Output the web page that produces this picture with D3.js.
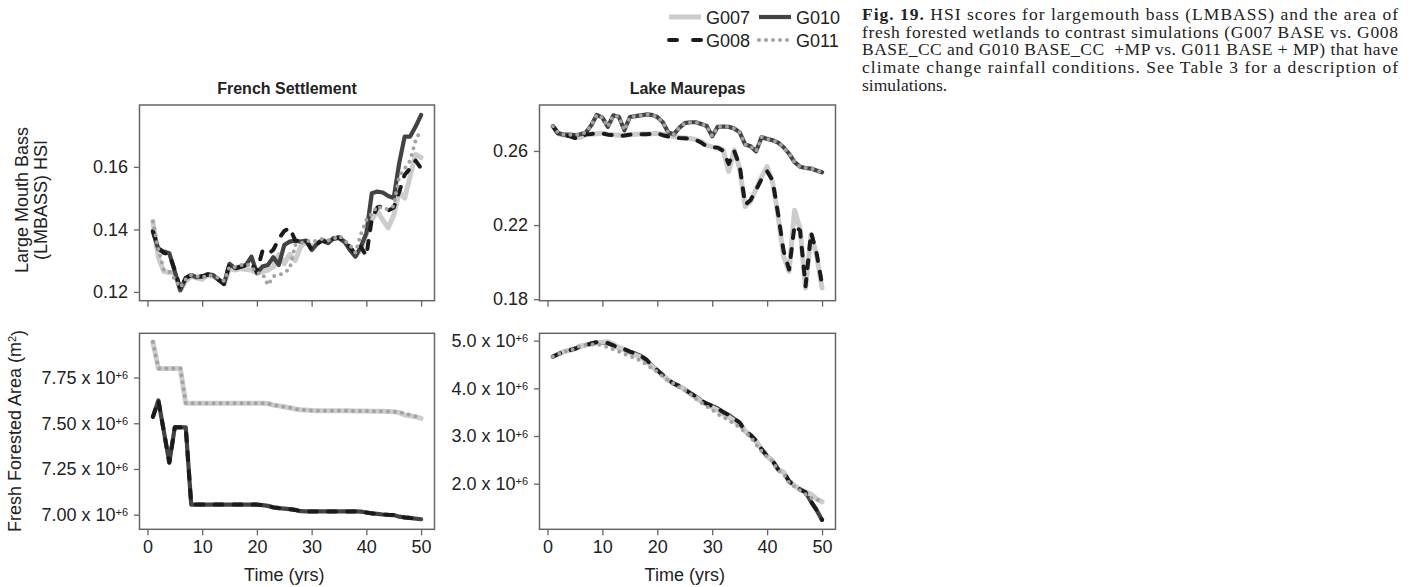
<!DOCTYPE html>
<html><head><meta charset="utf-8">
<script src="https://cdn.jsdelivr.net/npm/d3@7"></script>
<style>
body{margin:0;background:#fff}
svg{display:block}
</style>
</head><body>
<svg id="c" width="1411" height="587"></svg>
<script>
// ---------------- DATA ----------------
const years = [1,2,3,4,5,6,7,8,9,10,11,12,13,14,15,16,17,18,19,20,21,22,23,24,25,26,27,28,29,30,31,32,33,34,35,36,37,38,39,40,41,42,43,44,45,46,47,48,49,50];
const seriesNames = ["G007","G010","G008","G011"];
const xTicks = [0,10,20,30,40,50];
const fsHSITicks = [0.12,0.14,0.16];
const lmHSITicks = [0.18,0.22,0.26];
const fsAreaTicks = [7.00,7.25,7.50,7.75];
const lmAreaTicks = [2.0,3.0,4.0,5.0];
const panelTitles = ["French Settlement","Lake Maurepas"];

// French Settlement - Large Mouth Bass HSI
const fsHSI_G007 = [0.1425,0.1310,0.1265,0.1262,0.1262,0.1205,0.1235,0.1250,0.1245,0.1240,
0.1255,0.1250,0.1240,0.1225,0.1275,0.1270,0.1275,0.1272,0.1270,0.1260,
0.1265,0.1270,0.1280,0.1320,0.1290,0.1320,0.1300,0.1345,0.1360,0.1345,
0.1355,0.1365,0.1360,0.1370,0.1375,0.1360,0.1340,0.1315,0.1335,0.1385,
0.1430,0.1460,0.1430,0.1405,0.1445,0.1520,0.1500,0.1570,0.1640,0.1630];
const fsHSI_G010 = [0.1393,0.1337,0.1329,0.1324,0.1265,0.1206,0.1244,0.1254,0.1247,0.1249,
0.1257,0.1254,0.1238,0.1226,0.1290,0.1276,0.1281,0.1286,0.1313,0.1260,
0.1281,0.1286,0.1311,0.1286,0.1350,0.1361,0.1364,0.1361,0.1364,0.1334,
0.1354,0.1366,0.1356,0.1372,0.1372,0.1361,0.1334,0.1313,0.1345,0.1388,
0.1516,0.1521,0.1518,0.1507,0.1500,0.1612,0.1697,0.1697,0.1729,0.1766];
const fsHSI_G008 = [0.1395,0.1340,0.1325,0.1320,0.1270,0.1210,0.1245,0.1255,0.1250,0.1250,
0.1255,0.1255,0.1240,0.1225,0.1290,0.1275,0.1280,0.1285,0.1290,0.1265,
0.1330,0.1320,0.1335,0.1370,0.1395,0.1405,0.1365,0.1360,0.1365,0.1335,
0.1355,0.1365,0.1355,0.1370,0.1375,0.1360,0.1345,0.1320,0.1345,0.1315,
0.1435,0.1470,0.1475,0.1460,0.1470,0.1520,0.1575,0.1595,0.1620,0.1595];
const fsHSI_G011 = [0.1425,0.1335,0.1270,0.1265,0.1240,0.1215,0.1240,0.1255,0.1250,0.1245,
0.1255,0.1250,0.1245,0.1235,0.1280,0.1280,0.1285,0.1290,0.1280,0.1260,
0.1260,0.1222,0.1250,0.1255,0.1260,0.1275,0.1350,0.1355,0.1365,0.1360,
0.1365,0.1370,0.1365,0.1370,0.1380,0.1365,0.1350,0.1325,0.1385,0.1430,
0.1450,0.1475,0.1465,0.1465,0.1475,0.1570,0.1595,0.1620,0.1685,0.1720];

// Lake Maurepas - Large Mouth Bass HSI
const lmHSI_G007 = [0.2733,0.2692,0.2685,0.2683,0.2675,0.2672,0.2688,0.2690,0.2693,0.2695,
0.2690,0.2688,0.2685,0.2685,0.2688,0.2690,0.2692,0.2692,0.2693,0.2695,
0.2690,0.2682,0.2678,0.2673,0.2670,0.2667,0.2662,0.2650,0.2630,0.2622,
0.2618,0.2605,0.2490,0.2605,0.2505,0.2300,0.2330,0.2395,0.2460,0.2515,
0.2430,0.2250,0.2030,0.1950,0.2280,0.2180,0.1860,0.2150,0.2040,0.1860];
const lmHSI_G010 = [0.2733,0.2695,0.2688,0.2688,0.2685,0.2690,0.2700,0.2740,0.2795,0.2780,
0.2730,0.2792,0.2785,0.2712,0.2783,0.2788,0.2792,0.2797,0.2795,0.2783,
0.2755,0.2700,0.2690,0.2725,0.2750,0.2755,0.2755,0.2745,0.2735,0.2680,
0.2730,0.2732,0.2730,0.2722,0.2700,0.2635,0.2625,0.2598,0.2675,0.2665,
0.2658,0.2645,0.2620,0.2585,0.2540,0.2515,0.2508,0.2505,0.2495,0.2485];
const lmHSI_G008 = [0.2733,0.2690,0.2683,0.2680,0.2670,0.2668,0.2690,0.2692,0.2695,0.2695,
0.2688,0.2685,0.2680,0.2683,0.2688,0.2690,0.2690,0.2690,0.2692,0.2695,
0.2685,0.2678,0.2675,0.2670,0.2668,0.2665,0.2660,0.2645,0.2625,0.2620,
0.2618,0.2600,0.2530,0.2600,0.2520,0.2310,0.2335,0.2390,0.2450,0.2490,
0.2440,0.2260,0.2060,0.1960,0.2200,0.2170,0.1870,0.2160,0.2050,0.1880];
const lmHSI_G011 = [0.2733,0.2695,0.2688,0.2688,0.2685,0.2690,0.2700,0.2740,0.2795,0.2780,
0.2730,0.2792,0.2785,0.2712,0.2783,0.2788,0.2792,0.2797,0.2795,0.2783,
0.2755,0.2700,0.2690,0.2725,0.2750,0.2755,0.2755,0.2745,0.2735,0.2680,
0.2730,0.2732,0.2730,0.2722,0.2700,0.2635,0.2625,0.2598,0.2675,0.2665,
0.2658,0.2645,0.2620,0.2585,0.2540,0.2515,0.2508,0.2505,0.2495,0.2485];

// French Settlement - Fresh forested area (x 10^6 m2)
const fsArea_G007 = [7.945,7.800,7.800,7.800,7.800,7.800,7.610,7.610,7.610,7.610,
7.610,7.610,7.610,7.610,7.610,7.610,7.610,7.610,7.610,7.610,
7.610,7.608,7.600,7.595,7.590,7.585,7.578,7.574,7.572,7.570,
7.568,7.568,7.568,7.568,7.568,7.568,7.568,7.567,7.567,7.567,
7.566,7.566,7.565,7.564,7.563,7.558,7.545,7.541,7.536,7.527];
const fsArea_G010 = [7.535,7.625,7.455,7.285,7.478,7.478,7.478,7.055,7.055,7.055,
7.055,7.055,7.055,7.055,7.055,7.055,7.055,7.055,7.055,7.055,
7.052,7.048,7.040,7.036,7.033,7.030,7.026,7.019,7.018,7.018,
7.018,7.018,7.018,7.018,7.018,7.018,7.018,7.018,7.017,7.012,
7.007,7.004,7.001,6.999,6.998,6.989,6.985,6.982,6.978,6.975];
const fsArea_G008 = [7.535,7.625,7.455,7.285,7.478,7.478,7.478,7.055,7.055,7.055,
7.055,7.055,7.055,7.055,7.055,7.055,7.055,7.055,7.055,7.055,
7.052,7.048,7.040,7.036,7.033,7.030,7.026,7.019,7.018,7.018,
7.018,7.018,7.018,7.018,7.018,7.018,7.018,7.018,7.017,7.012,
7.007,7.004,7.001,6.999,6.998,6.989,6.985,6.982,6.978,6.975];
const fsArea_G011 = [7.945,7.800,7.800,7.800,7.800,7.800,7.610,7.610,7.610,7.610,
7.610,7.610,7.610,7.610,7.610,7.610,7.610,7.610,7.610,7.610,
7.610,7.608,7.600,7.595,7.590,7.585,7.578,7.574,7.572,7.570,
7.568,7.568,7.568,7.568,7.568,7.568,7.568,7.567,7.567,7.567,
7.566,7.566,7.565,7.564,7.563,7.560,7.555,7.545,7.536,7.530];

// Lake Maurepas - Fresh forested area (x 10^6 m2)
const lmArea_G007 = [4.665,4.720,4.770,4.800,4.830,4.890,4.910,4.930,4.960,4.970,
4.980,4.920,4.860,4.800,4.750,4.700,4.650,4.570,4.460,4.370,
4.270,4.170,4.100,4.040,3.970,3.890,3.810,3.720,3.660,3.600,
3.540,3.460,3.400,3.320,3.240,3.100,3.000,2.880,2.720,2.580,
2.470,2.300,2.240,2.050,1.960,1.880,1.830,1.780,1.680,1.620];
const lmArea_G010 = [4.665,4.720,4.770,4.800,4.830,4.880,4.910,4.940,4.970,4.960,
4.950,4.900,4.850,4.820,4.770,4.730,4.680,4.600,4.480,4.380,
4.280,4.180,4.100,4.050,3.980,3.900,3.830,3.740,3.680,3.630,
3.580,3.500,3.440,3.360,3.280,3.100,3.020,2.900,2.720,2.580,
2.480,2.300,2.240,2.050,1.960,1.880,1.820,1.620,1.450,1.240];
const lmArea_G008 = [4.665,4.720,4.770,4.800,4.830,4.880,4.910,4.940,4.970,4.960,
4.950,4.900,4.850,4.820,4.770,4.730,4.680,4.600,4.480,4.380,
4.280,4.180,4.100,4.050,3.980,3.900,3.830,3.740,3.680,3.630,
3.580,3.500,3.440,3.360,3.280,3.100,3.020,2.900,2.720,2.580,
2.480,2.300,2.240,2.050,1.960,1.880,1.820,1.620,1.450,1.240];
const lmArea_G011 = [4.665,4.720,4.770,4.800,4.830,4.900,4.910,4.920,4.930,4.900,
4.860,4.820,4.770,4.720,4.680,4.630,4.580,4.500,4.420,4.350,
4.250,4.160,4.100,4.020,3.960,3.880,3.780,3.700,3.620,3.550,
3.460,3.400,3.330,3.260,3.180,3.080,2.980,2.820,2.680,2.560,
2.470,2.280,2.200,2.020,1.940,1.860,1.780,1.700,1.660,1.650];

const captionLines = [
  ["Fig. 19.", " HSI scores for largemouth bass (LMBASS) and the area of"],
  ["", "fresh forested wetlands to contrast simulations (G007 BASE vs. G008"],
  ["", "BASE_CC and G010 BASE_CC  +MP vs. G011 BASE + MP) that have"],
  ["", "climate change rainfall conditions. See Table 3 for a description of"],
  ["", "simulations."]
];

// ---------------- STYLE / LAYOUT ----------------
const FONT = '"Liberation Sans", Arial, Helvetica, sans-serif';
const AX_FS = 18;
const styles = {
  G007: {stroke:"#cccccc", width:5,   dash:null,    cap:"round"},
  G010: {stroke:"#434343", width:4.2, dash:null,    cap:"round"},
  G008: {stroke:"#1b1b1b", width:4,   dash:"8,11",  cap:"round"},
  G011: {stroke:"#a2a2a2", width:4,   dash:"0,7",   cap:"round"}
};
const xDomain = [-1.45, 52.45];

const svg = d3.select("#c");

const panels = [
  {title:panelTitles[0], left:139.5, right:434.5, top:105, bottom:300.7,
   yDomain:[0.1172,0.1798], yTicks:fsHSITicks, fmt:"hsi", xLabels:false,
   order:["G007","G010","G008","G011"],
   data:{G007:fsHSI_G007,G010:fsHSI_G010,G008:fsHSI_G008,G011:fsHSI_G011}},
  {title:panelTitles[1], left:539.5, right:835.5, top:105, bottom:300.7,
   yDomain:[0.1792,0.2848], yTicks:lmHSITicks, fmt:"hsi", xLabels:false,
   order:["G007","G010","G008","G011"],
   data:{G007:lmHSI_G007,G010:lmHSI_G010,G008:lmHSI_G008,G011:lmHSI_G011}},
  {title:null, left:139.5, right:434.5, top:333.3, bottom:529.3,
   yDomain:[6.920,7.992], yTicks:fsAreaTicks, fmt:"sci2", xLabels:true,
   order:["G007","G010","G008","G011"],
   data:{G007:fsArea_G007,G010:fsArea_G010,G008:fsArea_G008,G011:fsArea_G011}},
  {title:null, left:539.5, right:835.5, top:333.3, bottom:529.3,
   yDomain:[1.043,5.155], yTicks:lmAreaTicks, fmt:"sci1", xLabels:true,
   order:["G010","G007","G008","G011"],
   data:{G007:lmArea_G007,G010:lmArea_G010,G008:lmArea_G008,G011:lmArea_G011}}
];

function drawPanel(p){
  const x = d3.scaleLinear().domain(xDomain).range([p.left,p.right]);
  const y = d3.scaleLinear().domain(p.yDomain).range([p.bottom,p.top]);
  const g = svg.append("g");

  // x axis
  const xa = g.append("g").attr("transform",`translate(0,${p.bottom})`)
    .call(d3.axisBottom(x).tickValues(xTicks).tickSize(6).tickPadding(5)
      .tickFormat(p.xLabels ? d3.format("d") : ""));
  xa.select(".domain").remove();
  xa.selectAll(".tick line").attr("stroke","#666").attr("stroke-width",1.3);
  xa.selectAll(".tick text").attr("font-family",FONT).attr("font-size",AX_FS).attr("fill","#222");

  // y axis
  const ya = g.append("g").attr("transform",`translate(${p.left},0)`)
    .call(d3.axisLeft(y).tickValues(p.yTicks).tickSize(5.5).tickPadding(6)
      .tickFormat(d => p.fmt==="hsi" ? d3.format(".2f")(d) : (p.fmt==="sci2" ? d3.format(".2f")(d) : d3.format(".1f")(d)) + " x 10"));
  ya.select(".domain").remove();
  ya.selectAll(".tick line").attr("stroke","#666").attr("stroke-width",1.3);
  ya.selectAll(".tick text").attr("font-family",FONT).attr("font-size",AX_FS).attr("fill","#222");
  if(p.fmt!=="hsi"){
    ya.selectAll(".tick text").append("tspan").attr("dy","-0.42em").attr("font-size",11).text("+6");
  }

  // frame
  g.append("rect").attr("x",p.left).attr("y",p.top)
    .attr("width",p.right-p.left).attr("height",p.bottom-p.top)
    .attr("fill","none").attr("stroke","#666").attr("stroke-width",1.5);

  // lines
  p.order.forEach(name=>{
    const st = styles[name];
    const vals = p.data[name];
    const line = d3.line().x((d,i)=>x(years[i])).y(d=>y(d));
    g.append("path").datum(vals).attr("d",line)
      .attr("fill","none").attr("stroke",st.stroke).attr("stroke-width",st.width)
      .attr("stroke-linejoin","round").attr("stroke-linecap",st.cap)
      .attr("stroke-dasharray",st.dash);
  });

  if(p.title){
    g.append("text").attr("x",(p.left+p.right)/2).attr("y",94)
      .attr("text-anchor","middle").attr("font-family",FONT).attr("font-weight","bold")
      .attr("font-size",16).attr("fill","#222").text(p.title);
  }
  if(p.xLabels){
    g.append("text").attr("x",x(25)).attr("y",581)
      .attr("text-anchor","middle").attr("font-family",FONT)
      .attr("font-size",AX_FS).attr("fill","#222").text("Time (yrs)");
  }
}
panels.forEach(drawPanel);

// y-axis titles
svg.append("text").attr("transform","translate(28,200) rotate(-90)")
  .attr("text-anchor","middle").attr("font-family",FONT).attr("font-size",AX_FS).attr("fill","#222")
  .text("Large Mouth Bass");
svg.append("text").attr("transform","translate(47,200) rotate(-90)")
  .attr("text-anchor","middle").attr("font-family",FONT).attr("font-size",AX_FS).attr("fill","#222")
  .text("(LMBASS) HSI");
const yt3 = svg.append("text").attr("transform","translate(21,431) rotate(-90)")
  .attr("text-anchor","middle").attr("font-family",FONT).attr("font-size",AX_FS).attr("fill","#222");
yt3.append("tspan").text("Fresh Forested Area (m");
yt3.append("tspan").attr("dy","-0.45em").attr("font-size",11).text("2");
yt3.append("tspan").attr("dy","0.45em").text(")");

// legend
const legendItems = [
  {name:"G007", x:667, y:17},
  {name:"G010", x:757, y:17},
  {name:"G008", x:667, y:40},
  {name:"G011", x:757, y:40}
];
legendItems.forEach(it=>{
  const st = styles[it.name];
  svg.append("line").attr("x1",it.x+2).attr("x2",it.x+34).attr("y1",it.y).attr("y2",it.y)
    .attr("stroke",st.stroke).attr("stroke-width",st.width)
    .attr("stroke-linecap", it.name==="G007"||it.name==="G010" ? "butt" : st.cap)
    .attr("stroke-dasharray", it.name==="G008" ? "8,16" : st.dash);
  svg.append("text").attr("x",it.x+39).attr("y",it.y+6.5)
    .attr("font-family",FONT).attr("font-size",18).attr("fill","#222").text(it.name);
});

// caption
const capX = 862, capW = 536;
captionLines.forEach((ln,i)=>{
  const t = svg.append("text").attr("x",capX).attr("y",20+i*17.7)
    .attr("font-family",'"Liberation Serif", "Times New Roman", serif')
    .attr("font-size",17.5).attr("fill","#222").attr("xml:space","preserve");
  if(i < captionLines.length-1){ t.attr("textLength",capW).attr("lengthAdjust","spacing"); }
  if(ln[0]) t.append("tspan").attr("font-weight","bold").text(ln[0]);
  t.append("tspan").text(ln[1]);
});
</script>
</body></html>
